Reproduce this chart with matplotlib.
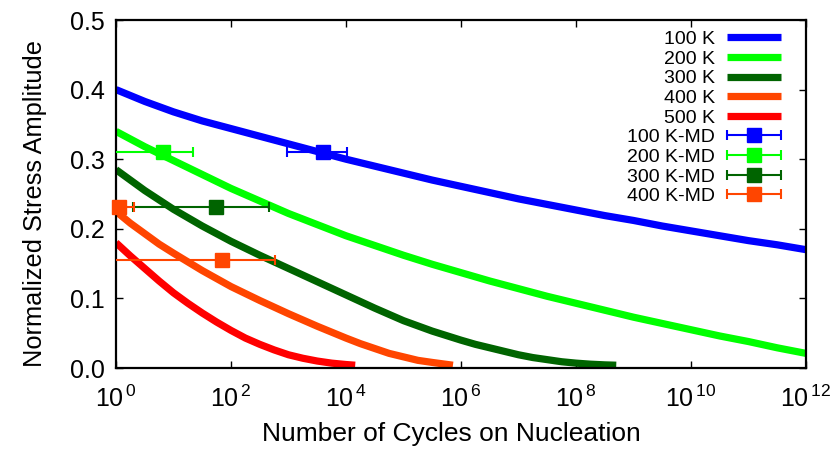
import matplotlib
matplotlib.use("Agg")
import matplotlib.pyplot as plt
import numpy as np
from matplotlib.ticker import FixedLocator, FuncFormatter, NullLocator
from matplotlib.legend_handler import HandlerErrorbar
from matplotlib.container import ErrorbarContainer

plt.rcParams['font.family'] = ['Liberation Sans', 'DejaVu Sans']
plt.rcParams['mathtext.fontset'] = 'custom'
plt.rcParams['mathtext.rm'] = 'Liberation Sans'
plt.rcParams['mathtext.it'] = 'Liberation Sans'

# ---- data (x given as log10 of number of cycles) ----
labels_lines = ["100 K", "200 K", "300 K", "400 K", "500 K"]
colors_lines = ["#0000ff", "#00ff00", "#006400", "#ff4500", "#ff0000"]

logn_100 = [0, 0.5, 1, 1.5, 2, 2.5, 3, 3.5, 4, 4.5, 5, 5.5, 6, 6.5, 7, 7.5, 8, 8.5, 9,
            9.5, 10, 10.5, 11, 11.5, 12]
s_100 = [0.400, 0.383, 0.368, 0.355, 0.344, 0.333, 0.322, 0.311, 0.300, 0.290, 0.280, 0.270,
         0.261, 0.252, 0.243, 0.235, 0.227, 0.219, 0.212, 0.204, 0.197, 0.190, 0.183, 0.177, 0.170]

logn_200 = [0, 0.5, 1, 1.5, 2, 2.5, 3, 3.5, 4, 4.5, 5, 5.5, 6, 6.5, 7, 7.5, 8, 8.5, 9,
            9.5, 10, 10.5, 11, 11.5, 12]
s_200 = [0.340, 0.318, 0.298, 0.278, 0.258, 0.240, 0.222, 0.206, 0.190, 0.176, 0.162, 0.149,
         0.137, 0.125, 0.114, 0.103, 0.093, 0.083, 0.073, 0.064, 0.055, 0.046, 0.038, 0.029, 0.021]

logn_300 = [0, 0.5, 1, 1.5, 2, 2.5, 3, 3.5, 4, 4.5, 5, 5.5, 6, 6.25, 6.5, 6.75, 7, 7.25, 7.5,
            7.75, 8, 8.25, 8.5, 8.7]
s_300 = [0.285, 0.255, 0.228, 0.204, 0.182, 0.162, 0.143, 0.124, 0.105, 0.086, 0.068, 0.053,
         0.040, 0.034, 0.029, 0.024, 0.019, 0.015, 0.012, 0.009, 0.007, 0.0055, 0.0045, 0.004]

logn_400 = [0, 0.25, 0.5, 0.75, 1, 1.5, 2, 2.5, 3, 3.5, 4, 4.25, 4.5, 4.75, 5, 5.25, 5.5, 5.86]
s_400 = [0.225, 0.208, 0.193, 0.178, 0.165, 0.140, 0.117, 0.097, 0.078, 0.060, 0.043, 0.035,
         0.028, 0.021, 0.016, 0.011, 0.008, 0.004]

logn_500 = [0, 0.25, 0.5, 0.75, 1, 1.25, 1.5, 1.75, 2, 2.25, 2.5, 2.75, 3, 3.25, 3.5, 3.75,
            4, 4.16]
s_500 = [0.180, 0.161, 0.143, 0.125, 0.108, 0.093, 0.079, 0.066, 0.054, 0.043, 0.034, 0.026,
         0.019, 0.014, 0.010, 0.007, 0.005, 0.004]

line_logn = [logn_100, logn_200, logn_300, logn_400, logn_500]
line_s = [s_100, s_200, s_300, s_400, s_500]

# MD points: (log10 N, stress, log10 low, log10 high)
labels_md = ["100 K-MD", "200 K-MD", "300 K-MD", "400 K-MD"]
colors_md = ["#0000ff", "#00ff00", "#006400", "#ff4500"]
md_logn = [[3.6], [0.82], [1.74], [0.05, 1.84]]
md_s = [[0.31], [0.31], [0.232], [0.232, 0.155]]
md_lo = [[2.97], [-0.5], [0.30], [-0.5, -0.5]]
md_hi = [[4.02], [1.34], [2.66], [0.31, 2.77]]

xtick_exp = [0, 2, 4, 6, 8, 10, 12]
yticks = [0.0, 0.1, 0.2, 0.3, 0.4, 0.5]

fig = plt.figure(figsize=(8.36, 4.5), dpi=100)
ax = fig.add_axes([116/836, 82/450, 690/836, 348/450])

handles = []
for lx, s, c, lab in zip(line_logn, line_s, colors_lines, labels_lines):
    h, = ax.plot(10.0**np.array(lx), s, color=c, lw=5.2, solid_capstyle='butt',
                 solid_joinstyle='round', label=lab)
    handles.append(h)

for lx, s, lo, hi, c, lab in zip(md_logn, md_s, md_lo, md_hi, colors_md, labels_md):
    x = 10.0**np.array(lx)
    xlo = x - 10.0**np.array(lo)
    xhi = 10.0**np.array(hi) - x
    h = ax.errorbar(x, s, xerr=[xlo, xhi], fmt='s', color=c, ms=10.5,
                    elinewidth=1.5, capsize=3.5, capthick=1.5, label=lab, zorder=5)
    h[0].set_clip_on(False)
    handles.append(h)

ax.set_xscale('log')
ax.set_xlim(1, 1e12)
ax.set_ylim(0, 0.5)
ax.xaxis.set_major_locator(FixedLocator([10.0**e for e in xtick_exp]))
ax.xaxis.set_minor_locator(NullLocator())
ax.xaxis.set_major_formatter(FuncFormatter(lambda v, p: r'$\mathregular{10^{\,%d}}$' % round(np.log10(v))))
ax.set_yticks(yticks)
ax.yaxis.set_major_formatter(FuncFormatter(lambda v, p: '%.1f' % v))

ax.tick_params(which='both', direction='in', top=True, right=True, length=5, width=1.0,
               labelsize=18)
ax.tick_params(axis='y', pad=8)
ax.tick_params(axis='x', pad=13)
for sp in ax.spines.values():
    sp.set_linewidth(1.6)

ax.set_xlabel('Number of Cycles on Nucleation', fontsize=19)
ax.xaxis.set_label_coords(0.4855, -0.155)
ax.set_ylabel('Normalized Stress Amplitude', fontsize=18.3)
ax.yaxis.set_label_coords(-0.100, 0.473)

leg = ax.legend(handles=handles, loc='upper right', bbox_to_anchor=(0.985, 1.012),
                frameon=False, markerfirst=False, fontsize=14, handlelength=2.8,
                labelspacing=0.105, handletextpad=0.6, borderpad=0.25,
                handler_map={ErrorbarContainer: HandlerErrorbar(xerr_size=1.4)})

fig.savefig('out.png', dpi=100)
